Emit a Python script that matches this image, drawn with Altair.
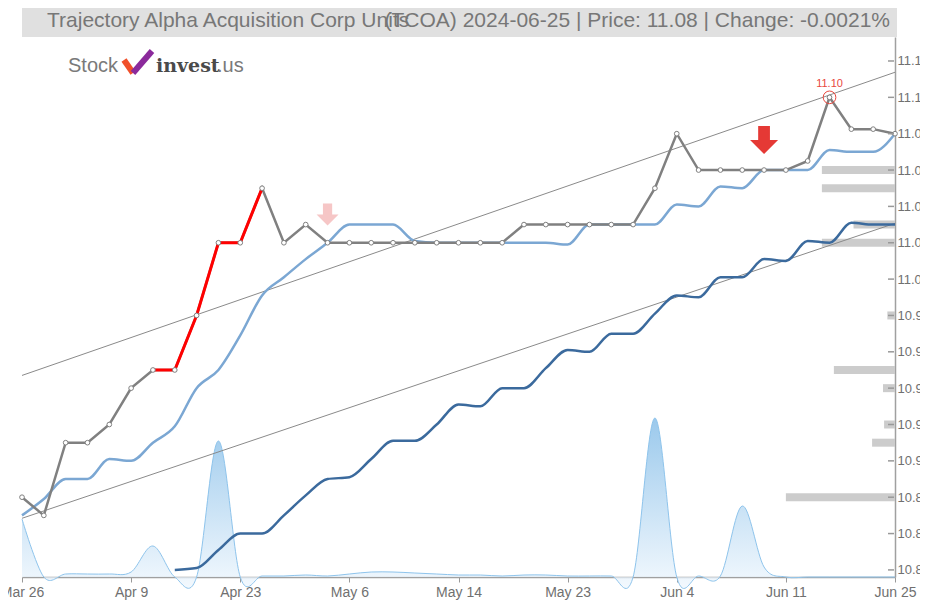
import json
import altair as alt
import pandas as pd

# ---------------- data ----------------
title_name = "Trajectory Alpha Acquisition Corp Units"
title_info = "(TCOA) 2024-06-25 | Price: 11.08 | Change: -0.0021%"

x_labels = ["Mar 26", "Apr 9", "Apr 23", "May 6", "May 14", "May 23", "Jun 4", "Jun 11", "Jun 25"]
x_tick_idx = [0, 5, 10, 15, 20, 25, 30, 35, 40]
y_ticks = [10.84, 10.86, 10.88, 10.90, 10.92, 10.94, 10.96, 10.98,
           11.00, 11.02, 11.04, 11.06, 11.08, 11.10, 11.12]

close = [10.88, 10.87, 10.91, 10.91, 10.92, 10.94, 10.95, 10.95, 10.98, 11.02,
         11.02, 11.05, 11.02, 11.03, 11.02, 11.02, 11.02, 11.02, 11.02, 11.02,
         11.02, 11.02, 11.02, 11.03, 11.03, 11.03, 11.03, 11.03, 11.03, 11.05,
         11.08, 11.06, 11.06, 11.06, 11.06, 11.06, 11.065, 11.10, 11.0825, 11.0825,
         11.08]
ma_fast = [10.870, 10.879, 10.890, 10.890, 10.901, 10.900, 10.910, 10.919, 10.940, 10.950,
           10.969, 10.991, 11.001, 11.011, 11.020, 11.030, 11.030, 11.030, 11.021, 11.020,
           11.020, 11.020, 11.020, 11.020, 11.020, 11.019, 11.030, 11.030, 11.030, 11.030,
           11.041, 11.040, 11.051, 11.050, 11.060, 11.060, 11.060, 11.071, 11.070, 11.070,
           11.080]
ma_slow = [None, None, None, None, None, None, None, 10.840, 10.841, 10.851,
           10.860, 10.860, 10.870, 10.881, 10.890, 10.891, 10.901, 10.911, 10.911, 10.920,
           10.931, 10.930, 10.940, 10.940, 10.951, 10.961, 10.960, 10.970, 10.970, 10.981,
           10.991, 10.990, 11.001, 11.001, 11.011, 11.010, 11.021, 11.020, 11.031, 11.030,
           11.030]
volume = [58, 0, 3, 3, 3, 5, 31, 0, 0, 136,
          0, 1, 1, 2, 1, 3, 5, 5, 4, 3,
          2, 2, 1, 2, 2, 1, 1, 1, 0, 159,
          0, 1, 1, 71, 10, 0, 0, 0, 0, 0,
          0]
rally_idx = [6, 7, 8, 9, 10, 11]

trend_idx = [0, 40]
trend_upper = [10.947, 11.1138]
trend_lower = [10.8684, 11.0307]

vp_price = [11.06, 11.05, 11.03, 11.02, 10.98, 10.95, 10.94, 10.92, 10.91, 10.88]
vp_vol = [67, 67, 38, 67, 7, 56, 11, 10, 21, 100]

peak_idx = 37
peak_price = 11.10
peak_label = "11.10"

arrow_idx = [14, 34]
arrow_price = [11.0356, 11.0765]
arrow_color = ["#f6c6c6", "#e53935"]
arrow_size = [484, 784]

# ---------------- layout / styles ----------------
W, H = 873, 540
FONT = "Liberation Sans"
xs = alt.Scale(domain=[0, 40], nice=False, zero=False)
ys = alt.Scale(domain=[10.8361, 11.1332], nice=False, zero=False)

df = pd.DataFrame({"i": list(range(len(close))), "close": close,
                   "fast": ma_fast, "slow": ma_slow, "vol": volume})
rally = df[df["i"].isin(rally_idx)]
trend = pd.DataFrame({"i": trend_idx, "upper": trend_upper, "lower": trend_lower})
vp = pd.DataFrame({"price": vp_price, "vol": vp_vol})
peak = pd.DataFrame({"i": [peak_idx], "p": [peak_price], "t": [peak_label]})
arrows = pd.DataFrame({"i": arrow_idx, "p": arrow_price, "c": arrow_color, "s": arrow_size})
ticks_df = pd.DataFrame({"p": y_ticks})

X = alt.X("i:Q", scale=xs, axis=None)


def Y(field):
    return alt.Y(field, scale=ys, axis=None)


grad = alt.Gradient(gradient="linear",
                    stops=[alt.GradientStop(color="#70b2e4", offset=0),
                           alt.GradientStop(color="#eef6fd", offset=1)],
                    x1=0, x2=0, y1=0, y2=1)

vol_area = alt.Chart(df).mark_area(
    interpolate="cardinal", color=grad,
    line={"color": "#8ec4ec", "strokeWidth": 1}
).encode(x=X, y=alt.Y("vol:Q", scale=alt.Scale(domain=[0, H]), axis=None))

vp_layer = alt.Chart(vp).mark_rule(color="#cccccc", strokeWidth=8).encode(
    x=alt.X("vol:Q", scale=alt.Scale(domain=[0, 800], reverse=True), axis=None),
    x2=alt.value(W),
    y=Y("price:Q"))

upper = alt.Chart(trend).mark_line(color="#8a8a8a", strokeWidth=1).encode(x=X, y=Y("upper:Q"))
lower = alt.Chart(trend).mark_line(color="#8a8a8a", strokeWidth=1).encode(x=X, y=Y("lower:Q"))

fast = alt.Chart(df).mark_line(color="#7ba7d3", strokeWidth=2.5, interpolate="monotone").encode(
    x=X, y=Y("fast:Q"))
slow = alt.Chart(df).mark_line(color="#3b6a9d", strokeWidth=2.5, interpolate="monotone").encode(
    x=X, y=Y("slow:Q"))

label_expr = json.dumps(x_labels) + "[round(datum.value / 5)]"
close_line = alt.Chart(df).mark_line(color="#808080", strokeWidth=2.5).encode(
    x=alt.X("i:Q", scale=xs, axis=alt.Axis(
        values=x_tick_idx, labelExpr=label_expr, title=None, grid=False,
        tickSize=5, tickColor="#999999", domainColor="#a0a0a0", domainWidth=1.5,
        labelColor="#707070", labelFont=FONT, labelFontSize=14, labelPadding=3,
        labelOverlap=False, labelBound=False, labelFlush=False)),
    y=alt.Y("close:Q", scale=ys, axis=alt.Axis(
        orient="right", values=y_ticks, title=None, grid=False,
        labelExpr="substring(format(datum.value, '.2f'), 0, 4)",
        ticks=False, domainColor="#a0a0a0", domainWidth=1.5,
        labelColor="#707070", labelFont=FONT, labelFontSize=13, labelPadding=2,
        labelOverlap=False, labelBound=False, labelFlush=False)))

rally_line = alt.Chart(rally).mark_line(color="#ff0000", strokeWidth=3).encode(x=X, y=Y("close:Q"))

pts = alt.Chart(df).mark_point(shape="circle", filled=True, fill="white", stroke="#808080",
                               strokeWidth=1, size=22, opacity=1).encode(x=X, y=Y("close:Q"))

yticks = alt.Chart(ticks_df).mark_rule(color="#999999", strokeWidth=1.5).encode(
    x=alt.value(W - 7), x2=alt.value(W - 1), y=Y("p:Q"))

arrow_path = "M-0.42,-1L0.42,-1L0.42,0L1,0L0,1L-1,0L-0.42,0Z"
arrow_layer = alt.Chart(arrows).mark_point(shape=arrow_path, filled=True, opacity=1).encode(
    x=X, y=Y("p:Q"), color=alt.Color("c:N", scale=None), size=alt.Size("s:Q", scale=None))

peak_circle = alt.Chart(peak).mark_point(shape="circle", filled=False, color="#e8483e",
                                         strokeWidth=1, size=160, opacity=1).encode(x=X, y=Y("p:Q"))
peak_text = alt.Chart(peak).mark_text(color="#e8483e", font=FONT, fontSize=11, dy=-13).encode(
    x=X, y=Y("p:Q"), text="t:N")

one = pd.DataFrame({"t": [""]})
title_box = alt.Chart(one).mark_rect(color="#e0e0e0").encode(
    x=alt.value(0), x2=alt.value(875), y=alt.value(-32), y2=alt.value(0))
t1 = alt.Chart(pd.DataFrame({"t": [title_name]})).mark_text(
    align="left", baseline="middle", font=FONT, fontSize=21, color="#777777").encode(
    x=alt.value(25), y=alt.value(-16), text="t:N")
t2 = alt.Chart(pd.DataFrame({"t": [title_info]})).mark_text(
    align="right", baseline="middle", font=FONT, fontSize=21, color="#777777").encode(
    x=alt.value(868), y=alt.value(-16), text="t:N")

logo_stock = alt.Chart(pd.DataFrame({"t": ["Stock"]})).mark_text(
    align="left", baseline="alphabetic", font=FONT, fontSize=20, color="#7a7a7a").encode(
    x=alt.value(46), y=alt.value(35), text="t:N")
logo_a = alt.Chart(one).mark_rule(color="#f0502a", strokeWidth=6).encode(
    x=alt.value(102), x2=alt.value(111), y=alt.value(23), y2=alt.value(36))
logo_b = alt.Chart(one).mark_rule(color="#8b2a9b", strokeWidth=6).encode(
    x=alt.value(111), x2=alt.value(130), y=alt.value(36), y2=alt.value(14))
logo_invest = alt.Chart(pd.DataFrame({"t": ["invest"]})).mark_text(
    align="left", baseline="alphabetic", font="DejaVu Serif", fontWeight="bold",
    fontSize=19, color="#4a4a4a").encode(x=alt.value(134), y=alt.value(35), text="t:N")
logo_us = alt.Chart(pd.DataFrame({"t": [".us"]})).mark_text(
    align="left", baseline="alphabetic", font=FONT, fontSize=20, color="#7a7a7a").encode(
    x=alt.value(195), y=alt.value(35), text="t:N")

chart = alt.layer(
    vol_area, vp_layer, upper, lower, fast, slow, close_line, rally_line, pts,
    yticks, arrow_layer, peak_circle, peak_text,
    title_box, t1, t2, logo_stock, logo_a, logo_b, logo_invest, logo_us
).resolve_scale(x="independent", y="independent").properties(
    width=W, height=H,
    padding={"left": 14, "top": 29, "right": 25, "bottom": 25},
    autosize=alt.AutoSizeParams(type="none"),
    background="white"
).configure_view(stroke=None)

chart.save("out.html", embed_options={"renderer": "svg", "actions": False})
